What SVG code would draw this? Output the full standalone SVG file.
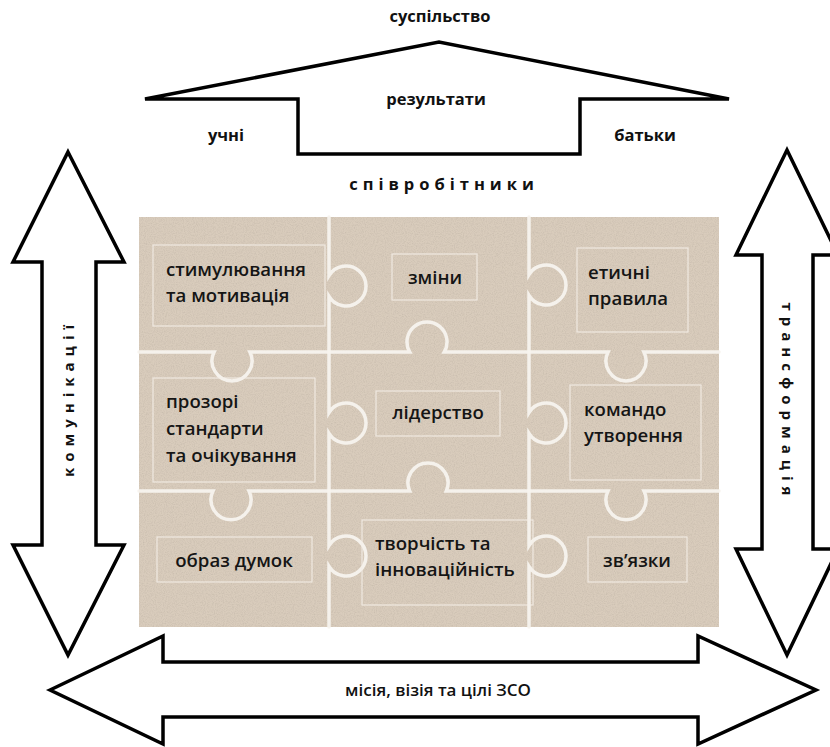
<svg xmlns="http://www.w3.org/2000/svg" width="830" height="747" viewBox="0 0 830 747">
<defs>
<style>
.shape{fill:#fff;stroke:#000;stroke-width:3.5;stroke-linejoin:miter}
.lbl{font-family:"Open Sans","Liberation Sans",sans-serif;font-weight:700;font-size:16.5px;fill:#111;text-anchor:middle}
.sp{letter-spacing:5px}
.pt{font-family:"Open Sans","Liberation Sans",sans-serif;font-weight:600;font-size:18.6px;fill:#151515}
.mid{text-anchor:middle}
.box{fill:none;stroke:#f4efe8;stroke-width:1.2;opacity:.85}
.seam{fill:none;stroke:#f7f3ee;stroke-width:3.5;stroke-linecap:round;opacity:.95}
</style>
<filter id="grain" x="0" y="0" width="100%" height="100%">
<feTurbulence type="fractalNoise" baseFrequency="0.9" numOctaves="2" seed="4" result="n"/>
<feColorMatrix in="n" type="matrix" values="0 0 0 0 0.55  0 0 0 0 0.48  0 0 0 0 0.40  0 0 0 -1.4 0.85" result="dots"/>
<feComposite in="dots" in2="SourceGraphic" operator="in" result="d2"/>
<feMerge><feMergeNode in="SourceGraphic"/><feMergeNode in="d2"/></feMerge>
</filter>
</defs>
<rect width="830" height="747" fill="#fff"/>

<g id="roof">
<polygon class="shape" points="145,99 439,42 729,99 580,99 580,154 298,154 298,99"/>
<text class="lbl" x="440" y="22">суспільство</text>
<text class="lbl" x="436" y="105">результати</text>
<text class="lbl" x="226" y="141">учні</text>
<text class="lbl" x="645" y="141">батьки</text>
<text class="lbl sp" x="444" y="190">співробітники</text>
</g>

<g id="arrow-communication">
<path class="shape" d="M68,152 L124,262 L96,262 L96,545 L124,545 L68,655 L13,545 L42,545 L42,262 L13,262 Z"/>
<text class="lbl" transform="translate(69,398) rotate(-90)" dy="5" style="letter-spacing:6px;font-size:15px">комунікації</text>
</g>

<g id="arrow-transformation">
<path class="shape" d="M787,150 L838,255 L813,255 L813,549 L838,549 L787,655 L736,549 L762,549 L762,255 L736,255 Z"/>
<text class="lbl" transform="translate(787,402) rotate(90)" dy="5" style="letter-spacing:6px;font-size:15px">трансформація</text>
</g>

<g id="arrow-mission">
<path class="shape" d="M50,690 L163,636 L163,662 L698,662 L698,636 L816,690 L698,744 L698,717 L163,717 L163,744 Z"/>
<text class="lbl" x="438" y="696" style="font-weight:600;font-size:17px">місія, візія та цілі ЗСО</text>
</g>

<g id="puzzle">
<rect x="139" y="217" width="580" height="410" fill="#d9ccbc" filter="url(#grain)"/>
<g id="seams">
<path class="seam" d="M329,217 V275.5 A20,20 0 1 1 329,296.5 V412.5 A20,20 0 1 1 329,433.5 V545.5 A20,20 0 1 1 329,566.5 V627"/>
<path class="seam" d="M529,217 V274.5 A20,20 0 1 1 529,295.5 V412.5 A20,20 0 1 1 529,433.5 V545.5 A20,20 0 1 1 529,566.5 V627"/>
<path class="seam" d="M139,352 H214.1 A20,20 0 1 0 249.9,352 H409.7 A20,20 0 1 1 444.3,352 H608.1 A20,20 0 1 0 643.9,352 H719"/>
<path class="seam" d="M139,491 H213 A20,20 0 1 0 249,491 H409.7 A20,20 0 1 1 446.3,491 H608 A20,20 0 1 0 644,491 H719"/>
</g>
</g>

<g id="n1"><rect class="box" x="153" y="245" width="172" height="81"/>
<text class="pt" x="166" y="276">стимулювання</text><text class="pt" x="166" y="302">та мотивація</text></g>
<g id="n2"><rect class="box" x="392" y="254" width="85" height="46"/>
<text class="pt mid" x="435" y="284">зміни</text></g>
<g id="n3"><rect class="box" x="577" y="248" width="111" height="84"/>
<text class="pt" x="588" y="279">етичні</text><text class="pt" x="588" y="305">правила</text></g>
<g id="n4"><rect class="box" x="153" y="378" width="162" height="104"/>
<text class="pt" x="166" y="408">прозорі</text><text class="pt" x="166" y="435">стандарти</text><text class="pt" x="166" y="462">та очікування</text></g>
<g id="n5"><rect class="box" x="376" y="391" width="124" height="45"/>
<text class="pt mid" x="438" y="419">лідерство</text></g>
<g id="n6"><rect class="box" x="570" y="385" width="131" height="95"/>
<text class="pt" x="584" y="416">командо</text><text class="pt" x="584" y="442">утворення</text></g>
<g id="n7"><rect class="box" x="157" y="537" width="155" height="45"/>
<text class="pt mid" x="234" y="567">образ думок</text></g>
<g id="n8"><rect class="box" x="362" y="520" width="171" height="85"/>
<text class="pt" x="375" y="550">творчість та</text><text class="pt" x="375" y="576">інноваційність</text></g>
<g id="n9"><rect class="box" x="588" y="537" width="99" height="45"/>
<text class="pt mid" x="637" y="567">зв’язки</text></g>
</svg>
